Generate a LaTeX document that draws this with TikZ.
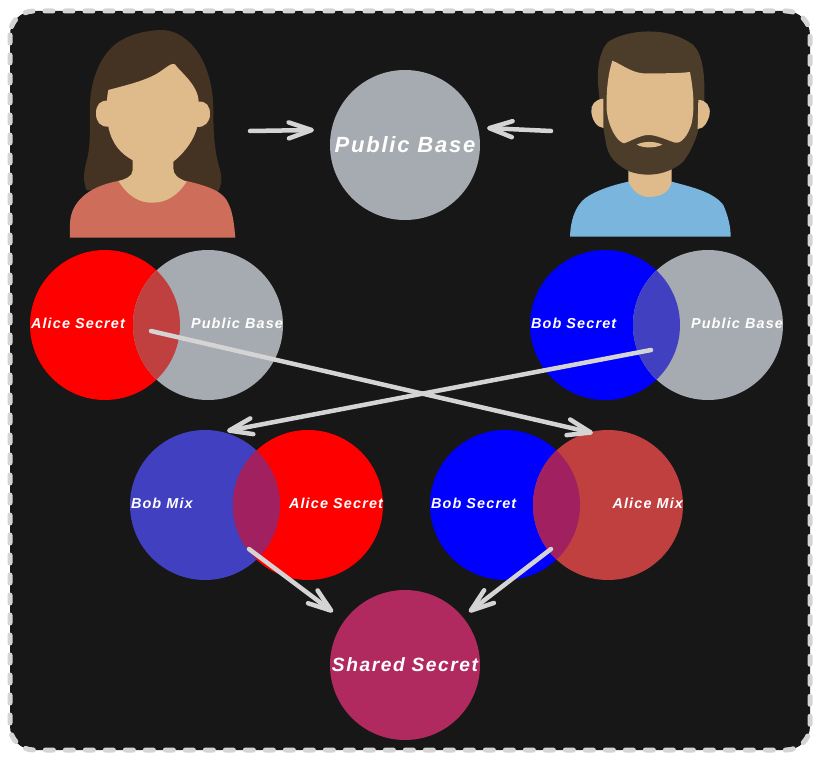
\documentclass[tikz,border=0pt]{standalone}
\usepackage{fontspec}
\usepackage{xcolor}
\usetikzlibrary{positioning,arrows.meta}
\newfontfamily\tagfont[LetterSpace=8]{Liberation Sans}

\definecolor{panel}{HTML}{171717}
\definecolor{chalk}{HTML}{D4D4D4}
\definecolor{basegray}{HTML}{A5ABB0}
\definecolor{alicemixc}{HTML}{C04040}
\definecolor{bobmixc}{HTML}{4040C0}
\definecolor{lensc}{HTML}{A02060}
\definecolor{sharedc}{HTML}{B02A60}
\definecolor{skin}{HTML}{DFBA8B}
\definecolor{hairalice}{HTML}{443322}
\definecolor{hairbob}{HTML}{4C3C2A}
\definecolor{shirtalice}{HTML}{CF6D5B}
\definecolor{shirtbob}{HTML}{7AB5DE}

\begin{document}
\begin{tikzpicture}[
				x=1pt, y=-1pt,
				disc/.style={circle, minimum size=150pt, inner sep=0pt, text=white},
				tag/.style={inner sep=0pt, text=white, font=\tagfont\fontsize{14.4}{17}\selectfont\bfseries\itshape},
				bigtag/.style={font=\tagfont\fontsize{22}{26}\selectfont\bfseries\itshape},
				midtag/.style={font=\tagfont\fontsize{19.2}{23}\selectfont\bfseries\itshape},
				link/.style={draw=chalk, line width=4.5pt, line cap=round, -{Straight Barb[length=23pt, width=16pt, round]}}
				]
				\useasboundingbox (0,0) rectangle (820,760);
				\fill[white] (0,0) rectangle (820,760);
				\draw[fill=panel, draw=chalk, line width=5pt, line cap=round, dash pattern=on 8pt off 12pt, rounded corners=24pt] (10,11) rectangle (810,750);
				
				% Alice
				\begin{scope}[shift={(50,10)}, x=0.3333pt, y=-0.3333pt]
					\fill[hairalice] (110,540) .. controls (100,520) and (100,490) .. (108,460) .. controls (120,420) and (120,380) .. (120,300) .. controls (118,200) and (160,120) .. (215,90) .. controls (260,65) and (310,60) .. (340,60) .. controls (420,65) and (490,160) .. (490,300) .. controls (490,380) and (495,430) .. (510,480) .. controls (518,510) and (515,530) .. (500,550) -- cycle;
					\fill[shirtalice] (60,683) -- (60,640) .. controls (62,580) and (110,530) .. (205,513) -- (410,513) .. controls (480,530) and (520,545) .. (535,580) .. controls (550,610) and (553,650) .. (556,683) -- cycle;
					\fill[skin] (248,440) -- (248,480) .. controls (248,500) and (225,508) .. (205,513) .. controls (235,560) and (270,580) .. (310,578) .. controls (350,578) and (385,555) .. (410,515) .. controls (385,505) and (370,495) .. (370,475) -- (370,440) -- cycle;
					\fill[skin] (175,272) .. controls (150,270) and (138,285) .. (138,310) .. controls (138,335) and (150,352) .. (178,350) -- cycle;
					\fill[skin] (444,275) .. controls (470,272) and (481,290) .. (480,313) .. controls (480,335) and (465,353) .. (440,351) -- cycle;
					\fill[skin] (175,240) .. controls (230,225) and (300,210) .. (340,178) .. controls (355,168) and (365,158) .. (375,163) .. controls (390,185) and (445,225) .. (446,275) .. controls (447,300) and (445,330) .. (442,350) .. controls (430,400) and (390,440) .. (370,455) -- (250,452) .. controls (210,430) and (185,400) .. (175,350) .. controls (170,320) and (168,270) .. (175,240) -- cycle;
				\end{scope}
				
				% Bob
				\begin{scope}[shift={(550,10)}, x=0.3333pt, y=-0.3333pt]
					\fill[shirtbob] (60,680) .. controls (62,630) and (75,590) .. (105,565) .. controls (140,540) and (190,525) .. (235,515) -- (365,515) .. controls (420,530) and (490,545) .. (520,585) .. controls (535,620) and (542,650) .. (542,680) -- cycle;
					\fill[skin] (235,470) -- (235,515) .. controls (250,545) and (270,562) .. (300,561) .. controls (335,560) and (360,545) .. (365,515) -- (365,470) -- cycle;
					\fill[hairbob] (175,95) .. controls (230,60) and (350,45) .. (430,105) .. controls (460,135) and (465,200) .. (463,270) .. controls (450,350) and (440,400) .. (400,455) .. controls (360,490) and (300,505) .. (240,485) .. controls (210,470) and (180,450) .. (170,410) .. controls (160,360) and (150,290) .. (145,230) .. controls (140,170) and (150,120) .. (175,95) -- cycle;
					\fill[skin] (160,266) .. controls (135,268) and (122,285) .. (124,305) .. controls (126,330) and (140,352) .. (160,354) -- cycle;
					\fill[skin] (445,270) .. controls (470,270) and (482,290) .. (479,312) .. controls (475,335) and (460,358) .. (443,357) -- cycle;
					\fill[skin] (187,152) .. controls (220,165) and (250,195) .. (300,190) .. controls (340,190) and (390,190) .. (420,186) .. controls (430,240) and (435,290) .. (425,340) .. controls (415,375) and (395,402) .. (375,398) .. controls (350,390) and (320,375) .. (295,375) .. controls (270,375) and (240,395) .. (222,400) .. controls (200,395) and (175,350) .. (170,300) .. controls (168,240) and (175,190) .. (187,152) -- cycle;
					\fill[skin] (260,404) .. controls (280,393) and (315,393) .. (337,404) .. controls (315,415) and (280,415) .. (260,404) -- cycle;
				\end{scope}
				
				\node[disc, fill=basegray, tag, bigtag] (publicbase) at (405,145) {Public Base};
				\node[disc, fill=red] (alicesecret) at (105,325) {};
				\node[disc, fill=basegray] (alicebase) at (208,325) {};
				\node[disc, fill=blue] (bobsecret) at (605,325) {};
				\node[disc, fill=basegray] (bobbase) at (708,325) {};
				\node[disc, fill=bobmixc] (bobmix) at (205,505) {};
				\node[disc, fill=red] (alicesecrettwo) at (308,505) {};
				\node[disc, fill=blue] (bobsecrettwo) at (505,505) {};
				\node[disc, fill=alicemixc] (alicemix) at (608,505) {};
				\node[disc, fill=sharedc, tag, midtag] (shared) at (405,665) {Shared Secret};
				
				% overlaps
				\begin{scope}
					\clip (alicesecret.center) circle (75pt);
					\fill[alicemixc] (alicebase.center) circle (75pt);
				\end{scope}
				\begin{scope}
					\clip (bobsecret.center) circle (75pt);
					\fill[bobmixc] (bobbase.center) circle (75pt);
				\end{scope}
				\begin{scope}
					\clip (bobmix.center) circle (75pt);
					\fill[lensc] (alicesecrettwo.center) circle (75pt);
				\end{scope}
				\begin{scope}
					\clip (bobsecrettwo.center) circle (75pt);
					\fill[lensc] (alicemix.center) circle (75pt);
				\end{scope}
				
				\node[tag, yshift=2pt, right=1pt of alicesecret.west] (tagalice) {Alice Secret};
				\node[tag, yshift=2pt, left=0pt of alicebase.east] (tagbasea) {Public Base};
				\node[tag, yshift=2pt, right=1pt of bobsecret.west] (tagbob) {Bob Secret};
				\node[tag, yshift=2pt, left=0pt of bobbase.east] (tagbaseb) {Public Base};
				\node[tag, yshift=2pt, right=1pt of bobmix.west] (tagbobmix) {Bob Mix};
				\node[tag, yshift=2pt, left=0pt of alicesecrettwo.east] (tagalicetwo) {Alice Secret};
				\node[tag, yshift=2pt, right=1pt of bobsecrettwo.west] (tagbobtwo) {Bob Secret};
				\node[tag, yshift=2pt, left=0pt of alicemix.east] (tagalicemix) {Alice Mix};
				
				\coordinate (alicehand) at (250,131);
				\coordinate (alicein) at (314,130);
				\coordinate (bobhand) at (551,131);
				\coordinate (bobin) at (487,128);
				\coordinate (alicefrom) at (151,331);
				\coordinate (aliceto) at (593,433);
				\coordinate (bobfrom) at (651,350);
				\coordinate (bobto) at (227,431);
				\coordinate (leftfrom) at (249,549);
				\coordinate (leftto) at (333,612);
				\coordinate (rightfrom) at (551,549);
				\coordinate (rightto) at (469,612);
				
				\draw[link] (alicehand) -- (alicein);
				\draw[link] (bobhand) -- (bobin);
				\draw[link] (alicefrom) -- (aliceto);
				\draw[link] (bobfrom) -- (bobto);
				\draw[link] (leftfrom) -- (leftto);
				\draw[link] (rightfrom) -- (rightto);
			\end{tikzpicture}
\end{document}
